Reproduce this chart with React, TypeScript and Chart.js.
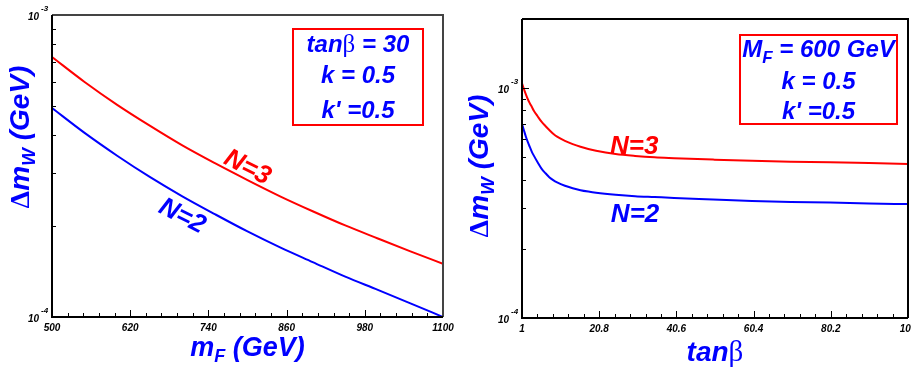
import React, { useEffect, useRef } from "react";
import { Chart, registerables } from "chart.js";

Chart.register(...registerables);

// ---------- data ----------
const massF = [500, 550, 600, 650, 700, 750, 800, 850, 900, 950, 1000, 1050, 1100];
const dmwMassN3 = [7.26e-4, 6.0e-4, 5.04e-4, 4.3e-4, 3.7e-4, 3.23e-4, 2.84e-4, 2.51e-4, 2.24e-4, 2.01e-4, 1.82e-4, 1.65e-4, 1.5e-4];
const dmwMassN2 = [4.92e-4, 4.07e-4, 3.42e-4, 2.91e-4, 2.51e-4, 2.19e-4, 1.92e-4, 1.7e-4, 1.52e-4, 1.36e-4, 1.23e-4, 1.11e-4, 1.0e-4];

const tanBeta = [1, 1.5, 2, 2.5, 3, 3.5, 4, 5, 6, 7, 8, 9, 10, 12, 14, 16, 18, 20, 25, 30, 35, 40, 50, 60, 70, 80, 90, 100];
const dmwTanN3 = [
  10.5e-4, 9.9e-4, 9.4e-4, 8.95e-4, 8.6e-4, 8.3e-4, 8.0e-4, 7.55e-4, 7.15e-4, 6.85e-4, 6.58e-4, 6.34e-4, 6.15e-4,
  5.9e-4, 5.71e-4, 5.56e-4, 5.44e-4, 5.34e-4, 5.17e-4, 5.07e-4, 5.0e-4, 4.96e-4, 4.89e-4, 4.83e-4, 4.79e-4,
  4.76e-4, 4.72e-4, 4.68e-4,
];
const dmwTanN2 = [
  7.0e-4, 6.55e-4, 6.15e-4, 5.82e-4, 5.55e-4, 5.3e-4, 5.1e-4, 4.76e-4, 4.47e-4, 4.27e-4, 4.1e-4, 3.98e-4, 3.89e-4,
  3.76e-4, 3.67e-4, 3.6e-4, 3.55e-4, 3.51e-4, 3.44e-4, 3.39e-4, 3.36e-4, 3.33e-4, 3.28e-4, 3.23e-4, 3.2e-4,
  3.18e-4, 3.15e-4, 3.13e-4,
];

const massTicks = [500, 620, 740, 860, 980, 1100];
const tanBetaTicks = [1, 20.8, 40.6, 60.4, 80.2, 100];

// ---------- styling helpers ----------
const SANS = '"Liberation Sans", Arial, sans-serif';
const SERIF = '"Liberation Serif", "DejaVu Serif", serif';
const BI = (s: number) => `italic bold ${s}px ${SANS}`;
const SYM = (s: number) => `${s}px ${SERIF}`;
const SYMB = (s: number) => `bold ${s}px ${SERIF}`;
const BLUE = "#0000ff";
const RED = "#ff0000";

type Seg = { t: string; f: string; dy?: number };

function richWidth(ctx: CanvasRenderingContext2D, segs: Seg[]) {
  let w = 0;
  for (const s of segs) {
    ctx.font = s.f;
    w += ctx.measureText(s.t).width;
  }
  return w;
}

function drawRich(ctx: CanvasRenderingContext2D, segs: Seg[], x: number, y: number, color: string, align = "center") {
  const w = richWidth(ctx, segs);
  let cx = align === "center" ? x - w / 2 : align === "right" ? x - w : x;
  ctx.fillStyle = color;
  ctx.textAlign = "left";
  ctx.textBaseline = "alphabetic";
  for (const s of segs) {
    ctx.font = s.f;
    ctx.fillText(s.t, cx, y + (s.dy || 0));
    cx += ctx.measureText(s.t).width;
  }
}

type Panel = {
  xs: number[];
  n3: number[];
  n2: number[];
  xMin: number;
  xMax: number;
  xTicks: number[];
  yMin: number;
  yMax: number;
  canvasLeft: number;
  width: number;
  height: number;
  padTop: number;
  padRight: number;
  yAxisW: number;
  xAxisH: number;
  frameColor: string;
  box: { dxRight: number; dyTop: number; w: number; h: number; lines: { segs: Seg[]; dy: number }[] };
  xTitle: Seg[];
  xTitleDy: number;
  yTitleX: number;
  yTitleY: number;
  labels: { text: string; color: string; x: number; y: number; angle: number }[];
};

const yTitleSegs: Seg[] = [
  { t: "Δ", f: SYMB(28) },
  { t: "m", f: BI(28) },
  { t: "W", f: BI(19), dy: 6 },
  { t: " (GeV)", f: BI(28) },
];

const leftPanel: Panel = {
  xs: massF,
  n3: dmwMassN3,
  n2: dmwMassN2,
  xMin: 500,
  xMax: 1100,
  xTicks: massTicks,
  yMin: 1e-4,
  yMax: 1e-3,
  canvasLeft: 0,
  width: 460,
  height: 367,
  padTop: 15,
  padRight: 17,
  yAxisW: 52,
  xAxisH: 50,
  frameColor: "#444444",
  box: {
    dxRight: 20,
    dyTop: 14,
    w: 130,
    h: 96,
    lines: [
      { segs: [{ t: "tan", f: BI(24) }, { t: "β", f: SYM(25) }, { t: " = 30", f: BI(24) }], dy: 23 },
      { segs: [{ t: "k = 0.5", f: BI(24) }], dy: 54 },
      { segs: [{ t: "k' =0.5", f: BI(24) }], dy: 89 },
    ],
  },
  xTitle: [
    { t: "m", f: BI(27) },
    { t: "F", f: BI(18), dy: 6 },
    { t: " (GeV)", f: BI(27) },
  ],
  xTitleDy: 39,
  yTitleX: 29,
  yTitleY: 137,
  labels: [
    { text: "N=3", color: RED, x: 801, y: 3.16e-4, angle: 27 },
    { text: "N=2", color: BLUE, x: 701, y: 2.18e-4, angle: 27 },
  ],
};

const rightPanel: Panel = {
  xs: tanBeta,
  n3: dmwTanN3,
  n2: dmwTanN2,
  xMin: 1,
  xMax: 100,
  xTicks: tanBetaTicks,
  yMin: 1e-4,
  yMax: 2e-3,
  canvasLeft: 460,
  width: 470,
  height: 367,
  padTop: 19,
  padRight: 22,
  yAxisW: 62,
  xAxisH: 49,
  frameColor: "#000000",
  box: {
    dxRight: 11,
    dyTop: 16,
    w: 157,
    h: 89,
    lines: [
      {
        segs: [
          { t: "M", f: BI(24) },
          { t: "F", f: BI(17), dy: 6 },
          { t: " = 600 GeV", f: BI(24) },
        ],
        dy: 22,
      },
      { segs: [{ t: "k = 0.5", f: BI(24) }], dy: 54 },
      { segs: [{ t: "k' =0.5", f: BI(24) }], dy: 84 },
    ],
  },
  xTitle: [
    { t: "tan", f: BI(28) },
    { t: "β", f: SYM(29) },
  ],
  xTitleDy: 43,
  yTitleX: 28,
  yTitleY: 166,
  labels: [
    { text: "N=3", color: RED, x: 29.8, y: 5.65e-4, angle: 0 },
    { text: "N=2", color: BLUE, x: 30, y: 2.86e-4, angle: 0 },
  ],
};

function makeDecor(p: Panel) {
  return {
    id: "decor",
    afterDatasetsDraw(chart: any) {
      const ctx: CanvasRenderingContext2D = chart.ctx;
      const a = chart.chartArea;
      const xs = chart.scales.x;
      const ys = chart.scales.y;
      ctx.save();

      // x ticks (inside, upward)
      ctx.strokeStyle = "#000";
      ctx.lineWidth = 1;
      ctx.beginPath();
      for (let i = 0; i < p.xTicks.length; i++) {
        const v = p.xTicks[i];
        const px = Math.round(xs.getPixelForValue(v)) + 0.5;
        ctx.moveTo(px, a.bottom);
        ctx.lineTo(px, a.bottom - 7);
        if (i < p.xTicks.length - 1) {
          const step = (p.xTicks[i + 1] - v) / 5;
          for (let j = 1; j < 5; j++) {
            const mx = Math.round(xs.getPixelForValue(v + j * step)) + 0.5;
            ctx.moveTo(mx, a.bottom);
            ctx.lineTo(mx, a.bottom - 4);
          }
        }
      }
      // y ticks (log, inside, rightwards)
      const e0 = Math.floor(Math.log10(p.yMin) + 1e-9);
      const e1 = Math.ceil(Math.log10(p.yMax) - 1e-9);
      for (let e = e0; e <= e1; e++) {
        for (let d = 1; d <= 9; d++) {
          const v = d * Math.pow(10, e);
          if (v < p.yMin * 0.999 || v > p.yMax * 1.001) continue;
          const py = Math.round(ys.getPixelForValue(v)) + 0.5;
          ctx.moveTo(a.left, py);
          ctx.lineTo(a.left + (d === 1 ? 7 : 4), py);
        }
      }
      ctx.stroke();

      // y decade labels 10^e
      for (let e = e0; e <= e1; e++) {
        const v = Math.pow(10, e);
        if (v < p.yMin * 0.999 || v > p.yMax * 1.001) continue;
        const py = ys.getPixelForValue(v);
        drawRich(ctx, [{ t: "10", f: BI(10) }], a.left - 13, py + 5, "#000", "right");
        drawRich(ctx, [{ t: String(e), f: BI(8) }], a.left - 11, py - 4, "#000", "left");
      }

      // frame
      ctx.lineWidth = 2;
      ctx.strokeStyle = p.frameColor;
      ctx.beginPath();
      ctx.moveTo(a.left, a.top);
      ctx.lineTo(a.right, a.top);
      ctx.lineTo(a.right, a.bottom);
      ctx.stroke();
      ctx.strokeStyle = "#000";
      ctx.beginPath();
      ctx.moveTo(a.left, a.top);
      ctx.lineTo(a.left, a.bottom);
      ctx.lineTo(a.right, a.bottom);
      ctx.stroke();

      // parameter box
      const bx = a.right - p.box.dxRight - p.box.w;
      const by = a.top + p.box.dyTop;
      ctx.fillStyle = "#fff";
      ctx.fillRect(bx, by, p.box.w, p.box.h);
      ctx.strokeStyle = RED;
      ctx.lineWidth = 2;
      ctx.strokeRect(bx, by, p.box.w, p.box.h);
      for (const ln of p.box.lines) {
        drawRich(ctx, ln.segs, bx + p.box.w / 2, by + ln.dy, BLUE, "center");
      }

      // curve labels
      for (const l of p.labels) {
        const px = xs.getPixelForValue(l.x);
        const py = ys.getPixelForValue(l.y);
        ctx.save();
        ctx.translate(px, py);
        ctx.rotate((l.angle * Math.PI) / 180);
        drawRich(ctx, [{ t: l.text, f: BI(26) }], 0, 9, l.color, "center");
        ctx.restore();
      }

      // axis titles
      drawRich(ctx, p.xTitle, (a.left + a.right) / 2, a.bottom + p.xTitleDy, BLUE, "center");
      ctx.save();
      ctx.translate(p.yTitleX, p.yTitleY);
      ctx.rotate(-Math.PI / 2);
      drawRich(ctx, yTitleSegs, 0, 0, BLUE, "center");
      ctx.restore();

      ctx.restore();
    },
  };
}

function pts(xs: number[], ys: number[]) {
  return xs.map((x, i) => ({ x, y: ys[i] }));
}

function PanelChart({ p }: { p: Panel }) {
  const ref = useRef<HTMLCanvasElement | null>(null);
  useEffect(() => {
    if (!ref.current) return;
    const chart = new Chart(ref.current, {
      type: "line",
      data: {
        datasets: [
          {
            data: pts(p.xs, p.n3),
            borderColor: RED,
            borderWidth: 2,
            pointRadius: 0,
            fill: false,
            cubicInterpolationMode: "monotone",
          },
          {
            data: pts(p.xs, p.n2),
            borderColor: BLUE,
            borderWidth: 2,
            pointRadius: 0,
            fill: false,
            cubicInterpolationMode: "monotone",
          },
        ],
      },
      options: {
        responsive: false,
        animation: false,
        events: [],
        layout: { padding: { top: p.padTop, right: p.padRight, left: 0, bottom: 0 } },
        plugins: { legend: { display: false }, tooltip: { enabled: false } },
        scales: {
          x: {
            type: "linear",
            min: p.xMin,
            max: p.xMax,
            grid: { display: false, drawTicks: false },
            border: { display: false },
            afterBuildTicks: (s: any) => {
              s.ticks = p.xTicks.map((v) => ({ value: v }));
            },
            afterFit: (s: any) => {
              s.height = p.xAxisH;
            },
            ticks: {
              autoSkip: false,
              maxRotation: 0,
              padding: 5,
              color: "#000",
              font: { family: SANS, size: 10, style: "italic", weight: "bold" },
              callback: (v: any) => String(v),
            },
          },
          y: {
            type: "logarithmic",
            min: p.yMin,
            max: p.yMax,
            grid: { display: false, drawTicks: false },
            border: { display: false },
            ticks: { display: false },
            afterFit: (s: any) => {
              s.width = p.yAxisW;
            },
          },
        },
      } as any,
      plugins: [makeDecor(p)],
    });
    return () => chart.destroy();
  }, [p]);
  return (
    <canvas
      ref={ref}
      width={p.width}
      height={p.height}
      style={{ position: "absolute", left: p.canvasLeft, top: 0, width: p.width, height: p.height }}
    />
  );
}

export default function App() {
  return (
    <div
      style={{
        position: "fixed",
        left: 0,
        top: 0,
        width: 911,
        height: 367,
        overflow: "hidden",
        background: "#fff",
      }}
    >
      <PanelChart p={leftPanel} />
      <PanelChart p={rightPanel} />
    </div>
  );
}
